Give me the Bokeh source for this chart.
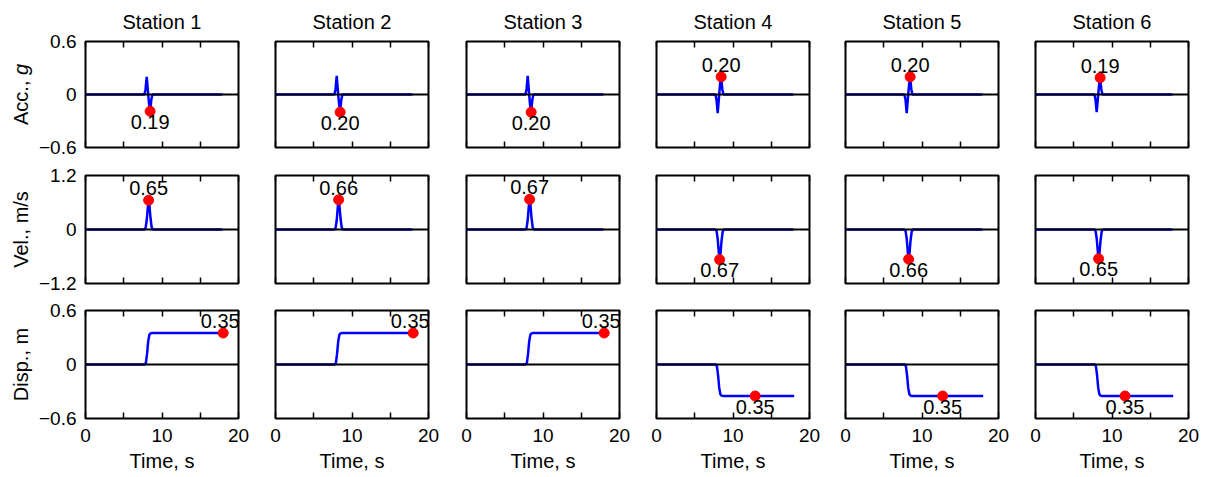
import math
from bokeh.plotting import figure
from bokeh.layouts import gridplot
from bokeh.models import Span, Label, FixedTicker, Range1d, LinearAxis
from bokeh.embed import file_html
from bokeh.resources import INLINE

# ---------------- data ----------------
stations = ["Station 1", "Station 2", "Station 3", "Station 4", "Station 5", "Station 6"]
y_limits = [0.6, 1.2, 0.6]
x_ticks = [0, 5, 10, 15, 20]
x_tick_labels = {0: "0", 5: "", 10: "10", 15: "", 20: "20"}
y_ticks = [[-0.6, 0, 0.6], [-1.2, 0, 1.2], [-0.6, 0, 0.6]]
y_tick_labels = [{-0.6: "\u22120.6", 0: "0", 0.6: "0.6"},
                 {-1.2: "\u22121.2", 0: "0", 1.2: "1.2"},
                 {-0.6: "\u22120.6", 0: "0", 0.6: "0.6"}]

# acceleration (g)
t_acc = [0.0, 7.7, 7.85, 8.0, 8.15, 8.3, 8.45, 8.6, 8.75, 17.9]
acc_1 = [0, 0, 0.06, 0.20, 0.05, -0.10, -0.19, -0.06, 0, 0]
acc_2 = [0, 0, 0.06, 0.21, 0.05, -0.10, -0.20, -0.06, 0, 0]
acc_3 = [0, 0, 0.06, 0.21, 0.05, -0.11, -0.20, -0.06, 0, 0]
acc_4 = [0, 0, -0.06, -0.21, -0.05, 0.11, 0.20, 0.06, 0, 0]
acc_5 = [0, 0, -0.06, -0.21, -0.05, 0.10, 0.20, 0.06, 0, 0]
acc_6 = [0, 0, -0.06, -0.20, -0.05, 0.10, 0.19, 0.06, 0, 0]
acc_peak_t = [8.45, 8.45, 8.45, 8.45, 8.45, 8.45]
acc_peak = [-0.19, -0.20, -0.20, 0.20, 0.20, 0.19]

# velocity (m/s)
t_vel = [0.0, 7.7, 7.85, 8.0, 8.15, 8.25, 8.35, 8.5, 8.65, 8.8, 17.9]
vel_1 = [0, 0, 0.03, 0.20, 0.50, 0.65, 0.55, 0.25, 0.05, 0, 0]
vel_2 = [0, 0, 0.03, 0.20, 0.51, 0.66, 0.56, 0.25, 0.05, 0, 0]
vel_3 = [0, 0, 0.03, 0.21, 0.52, 0.67, 0.57, 0.26, 0.05, 0, 0]
vel_4 = [0, 0, -0.03, -0.21, -0.52, -0.67, -0.57, -0.26, -0.05, 0, 0]
vel_5 = [0, 0, -0.03, -0.20, -0.51, -0.66, -0.56, -0.25, -0.05, 0, 0]
vel_6 = [0, 0, -0.03, -0.20, -0.50, -0.65, -0.55, -0.25, -0.05, 0, 0]
vel_peak_t = [8.25, 8.25, 8.25, 8.25, 8.25, 8.25]
vel_peak = [0.65, 0.66, 0.67, -0.67, -0.66, -0.65]

# displacement (m)
t_disp = [0.0, 7.75, 7.9, 8.05, 8.2, 8.35, 8.5, 8.7, 9.0, 18.0]
disp_1 = [0, 0, 0.02, 0.12, 0.26, 0.33, 0.346, 0.35, 0.35, 0.35]
disp_2 = [0, 0, 0.02, 0.12, 0.26, 0.33, 0.346, 0.35, 0.35, 0.35]
disp_3 = [0, 0, 0.02, 0.12, 0.26, 0.33, 0.346, 0.35, 0.35, 0.35]
disp_4 = [0, 0, -0.02, -0.12, -0.26, -0.33, -0.346, -0.35, -0.35, -0.35]
disp_5 = [0, 0, -0.02, -0.12, -0.26, -0.33, -0.346, -0.35, -0.35, -0.35]
disp_6 = [0, 0, -0.02, -0.12, -0.26, -0.33, -0.346, -0.35, -0.35, -0.35]
disp_peak_t = [18.0, 18.0, 18.0, 12.9, 12.7, 11.7]
disp_peak = [0.35, 0.35, 0.35, -0.35, -0.35, -0.35]

row_titles = ["Acc.,", "Vel., m/s", "Disp., m"]

rows_data = [
    (t_acc, [acc_1, acc_2, acc_3, acc_4, acc_5, acc_6], acc_peak_t, acc_peak),
    (t_vel, [vel_1, vel_2, vel_3, vel_4, vel_5, vel_6], vel_peak_t, vel_peak),
    (t_disp, [disp_1, disp_2, disp_3, disp_4, disp_5, disp_6], disp_peak_t, disp_peak),
]

# ---------------- layout ----------------
FONT = "Liberation Sans"
frame_w = 153
frame_h = [106, 108, 108]
label_w = 35
col_left = [47, 18, 18, 18, 18, 18]
col_right = [19, 20, 19, 18, 19, 11]
row_top = [41, 14, 14]
row_bottom = [14, 13, 59]


def text_style(size="20px"):
    return dict(text_font=FONT, text_font_size=size, text_color="black")


grid = []
for r in range(3):
    t, series, pk_t, pk_v = rows_data[r]
    lim = y_limits[r]
    row_figs = []

    # narrow figure holding the row's y-axis title
    lf = figure(frame_width=label_w, frame_height=frame_h[r],
                x_range=Range1d(0, label_w), y_range=Range1d(-lim, lim),
                output_backend="svg", toolbar_location=None,
                min_border_left=0, min_border_right=0,
                min_border_top=row_top[r], min_border_bottom=row_bottom[r])
    lf.axis.visible = False
    lf.grid.visible = False
    lf.outline_line_color = None
    lf.background_fill_color = "white"
    lf.border_fill_color = "white"
    if r == 0:
        lf.add_layout(Label(x=20, y=0, text=row_titles[0], angle=math.pi / 2,
                            y_offset=-30.5, text_align="left", text_baseline="alphabetic",
                            **text_style()))
        lf.add_layout(Label(x=20, y=0, text="g", angle=math.pi / 2,
                            y_offset=30.5, text_align="right", text_baseline="alphabetic",
                            text_font_style="italic", **text_style()))
    else:
        lf.add_layout(Label(x=20, y=0, text=row_titles[r], angle=math.pi / 2,
                            text_align="center", text_baseline="alphabetic",
                            **text_style()))
    row_figs.append(lf)

    for c in range(6):
        p = figure(frame_width=frame_w, frame_height=frame_h[r],
                   x_range=Range1d(0, 20), y_range=Range1d(-lim, lim),
                   output_backend="svg", toolbar_location=None,
                   min_border_left=col_left[c], min_border_right=col_right[c],
                   min_border_top=row_top[r], min_border_bottom=row_bottom[r],
                   title=stations[c] if r == 0 else None)
        p.background_fill_color = "white"
        p.border_fill_color = "white"
        p.outline_line_color = "black"
        p.outline_line_width = 2
        p.xgrid.visible = False
        p.ygrid.visible = False
        if r == 0:
            p.title.text_font = FONT
            p.title.text_font_size = "20px"
            p.title.text_font_style = "normal"
            p.title.text_color = "black"
            p.title.align = "center"
            p.title.standoff = 17

        # bottom axis
        xa = p.xaxis[0]
        xa.ticker = FixedTicker(ticks=x_ticks)
        xa.major_tick_in = 6
        xa.major_tick_out = 0
        xa.minor_tick_in = 0
        xa.minor_tick_out = 0
        xa.axis_line_color = None
        xa.major_tick_line_color = "black"
        xa.major_tick_line_width = 1.5
        if r == 2:
            xa.major_label_overrides = x_tick_labels
            xa.major_label_text_font = FONT
            xa.major_label_text_font_size = "19px"
            xa.major_label_text_color = "black"
            xa.major_label_standoff = 10
            xa.axis_label = "Time, s"
            xa.axis_label_text_font = FONT
            xa.axis_label_text_font_size = "20px"
            xa.axis_label_text_font_style = "normal"
            xa.axis_label_text_color = "black"
            xa.axis_label_standoff = 5
        else:
            xa.major_label_text_font_size = "1px"
            xa.major_label_text_color = None
            xa.major_label_standoff = 0

        # top axis (tick marks only)
        top = LinearAxis(ticker=FixedTicker(ticks=x_ticks),
                         major_label_text_font_size="1px", major_label_text_color=None,
                         major_label_standoff=0,
                         major_tick_in=6, major_tick_out=0,
                         minor_tick_in=0, minor_tick_out=0,
                         axis_line_color=None, major_tick_line_color="black",
                         major_tick_line_width=1.5)
        p.add_layout(top, "above")

        # left axis
        ya = p.yaxis[0]
        if c == 0:
            ya.ticker = FixedTicker(ticks=y_ticks[r])
            ya.major_label_overrides = y_tick_labels[r]
            ya.major_label_text_font = FONT
            ya.major_label_text_font_size = "19px"
            ya.major_label_text_color = "black"
            ya.major_label_standoff = 9
            ya.major_tick_in = 0
            ya.major_tick_out = 0
            ya.minor_tick_in = 0
            ya.minor_tick_out = 0
            ya.axis_line_color = None
        else:
            ya.visible = False

        # curve, zero line, peak marker and its value
        p.line(t, series[c], line_color="blue", line_width=2.5)
        p.add_layout(Span(location=0, dimension="width", line_color="black", line_width=2))
        p.scatter([pk_t[c]], [pk_v[c]], size=10, fill_color="red", line_color="red")
        v = pk_v[c]
        p.add_layout(Label(x=pk_t[c], y=v, text=f"{abs(v):.2f}",
                           text_align="center", text_baseline="alphabetic",
                           x_offset=-3 if pk_t[c] > 17.5 else 0,
                           y_offset=12 if v > 0 else -10.5,
                           **text_style()))
        row_figs.append(p)
    grid.append(row_figs)

layout = gridplot(grid, toolbar_location=None)
open("out.html", "w").write(file_html(layout, INLINE))
